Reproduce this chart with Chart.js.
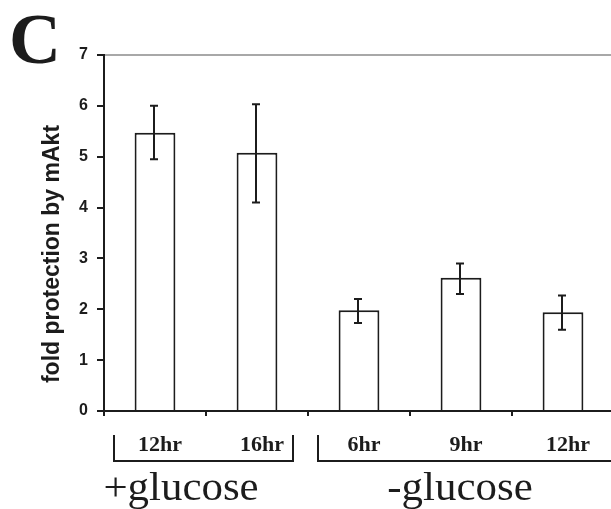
<!DOCTYPE html>
<html>
<head>
<meta charset="utf-8">
<script src="https://cdn.jsdelivr.net/npm/chart.js@4"></script>
<style>
html,body{margin:0;padding:0;background:#fff;overflow:hidden;}
canvas{display:block;}
</style>
</head>
<body>
<canvas id="c" width="620" height="509"></canvas>
<script>
const categories = ["12hr", "16hr", "6hr", "9hr", "12hr"];
const values = [5.47, 5.08, 1.98, 2.62, 1.94];
const errUpper = [6.0, 6.03, 2.2, 2.9, 2.27];
const errLower = [4.95, 4.1, 1.73, 2.3, 1.6];
const groupNames = ["+glucose", "-glucose"];
const groupStart = [0, 2];
const groupEnd = [1, 4];
const yTicks = [0, 1, 2, 3, 4, 5, 6, 7];
const yTitle = "fold protection by mAkt";
const panelLetter = "C";

const INK = '#1c1c1c';

const overlay = {
  id: 'overlay',
  afterDatasetsDraw(chart) {
    const ctx = chart.ctx;
    const ys = chart.scales.y;
    const meta = chart.getDatasetMeta(0);
    ctx.save();
    ctx.strokeStyle = INK;
    ctx.lineWidth = 2;
    meta.data.forEach((bar, i) => {
      const x = bar.x - 1;
      const yt = ys.getPixelForValue(errUpper[i]);
      const yb = ys.getPixelForValue(errLower[i]);
      ctx.beginPath();
      ctx.moveTo(x, yt); ctx.lineTo(x, yb);
      ctx.moveTo(x - 4, yt); ctx.lineTo(x + 4, yt);
      ctx.moveTo(x - 4, yb); ctx.lineTo(x + 4, yb);
      ctx.stroke();
    });
    ctx.restore();
  },
  afterDraw(chart) {
    const ctx = chart.ctx;
    const xs = chart.scales.x;
    const ys = chart.scales.y;
    const half = (xs.getPixelForValue(1) - xs.getPixelForValue(0)) / 2;
    ctx.save();
    ctx.fillStyle = INK;
    ctx.strokeStyle = INK;
    // y title
    ctx.save();
    ctx.font = 'bold 23px "Liberation Sans"';
    ctx.textAlign = 'center';
    ctx.textBaseline = 'middle';
    ctx.translate(53, (ys.top + ys.bottom) / 2 + 21);
    ctx.rotate(-Math.PI / 2);
    ctx.fillText(yTitle, 0, 0);
    ctx.restore();
    // category labels
    ctx.font = 'bold 22px "Liberation Serif"';
    ctx.textAlign = 'center';
    ctx.textBaseline = 'middle';
    categories.forEach((c, i) => {
      ctx.fillText(c, xs.getPixelForValue(i) + 5, 445);
    });
    // brackets
    ctx.lineWidth = 2;
    groupNames.forEach((g, k) => {
      const l = xs.getPixelForValue(groupStart[k]) - half + 10;
      let r = xs.getPixelForValue(groupEnd[k]) + half - 15;
      ctx.beginPath();
      ctx.moveTo(l, 435); ctx.lineTo(l, 461);
      if (k === groupNames.length - 1) {
        r = chart.width + 10;
        ctx.lineTo(r, 461);
      } else {
        ctx.lineTo(r, 461); ctx.lineTo(r, 435);
      }
      ctx.stroke();
    });
    // group names
    ctx.font = '39px "Liberation Serif"';
    ctx.textBaseline = 'alphabetic';
    const gx = [xs.getPixelForValue(0) + 26, xs.getPixelForValue(3) - 1];
    groupNames.forEach((g, k) => {
      ctx.save();
      ctx.translate(gx[k], 500);
      ctx.scale(1.1, 1);
      ctx.fillText(g, 0, 0);
      ctx.restore();
    });
    // panel letter
    ctx.font = 'bold 72px "Liberation Serif"';
    ctx.textAlign = 'left';
    ctx.textBaseline = 'alphabetic';
    ctx.fillText(panelLetter, 9, 63);
    ctx.restore();
  }
};

new Chart(document.getElementById('c'), {
  type: 'bar',
  data: {
    labels: categories,
    datasets: [{
      data: values,
      backgroundColor: '#ffffff',
      borderColor: INK,
      borderWidth: 2,
      borderSkipped: 'bottom',
      categoryPercentage: 1.0,
      barPercentage: 0.4
    }]
  },
  options: {
    responsive: false,
    animation: false,
    devicePixelRatio: 1,
    layout: { padding: { top: 55, left: 0, right: 6, bottom: 0 } },
    plugins: { legend: { display: false }, tooltip: { enabled: false } },
    scales: {
      x: {
        offset: true,
        grid: {
          offset: true,
          color: 'rgba(0,0,0,0)',
          tickColor: INK,
          tickLength: 5,
          lineWidth: 2,
          drawTicks: true
        },
        border: { display: true, color: INK, width: 2 },
        ticks: { display: false },
        afterFit(scale) { scale.height = 98; }
      },
      y: {
        min: 0, max: 7,
        afterBuildTicks(scale) { scale.ticks = yTicks.map(v => ({ value: v })); },
        grid: {
          color: (c) => (c.tick && c.tick.value === 7) ? '#a8a8a8' : 'rgba(0,0,0,0)',
          tickColor: INK,
          tickLength: 7,
          lineWidth: 2
        },
        border: { display: true, color: INK, width: 2 },
        ticks: {
          padding: 9,
          color: INK,
          font: { family: '"Liberation Sans"', weight: 'bold', size: 16 }
        },
        title: { display: false },
        afterFit(scale) { scale.width = 104; }
      }
    }
  },
  plugins: [overlay]
});
</script>
</body>
</html>
